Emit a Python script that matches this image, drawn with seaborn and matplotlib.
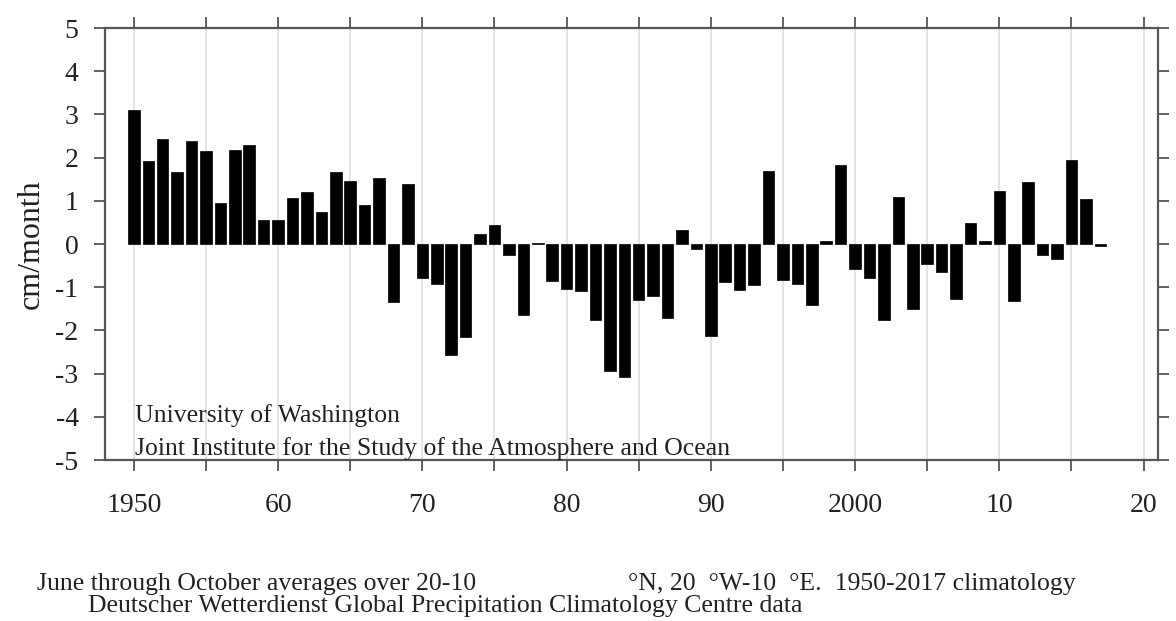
import matplotlib
matplotlib.use("Agg")
import matplotlib.pyplot as plt
import seaborn as sns
import numpy as np
import pandas as pd

years = list(range(1950, 2018))
anomaly_cm = [
    3.11, 1.91, 2.42, 1.66, 2.39, 2.15, 0.95, 2.17, 2.30, 0.56,
    0.56, 1.06, 1.20, 0.75, 1.67, 1.45, 0.90, 1.52, -1.35, 1.40,
    -0.79, -0.93, -2.56, -2.16, 0.24, 0.45, -0.26, -1.64, 0.03, -0.86,
    -1.04, -1.08, -1.77, -2.93, -3.09, -1.29, -1.21, -1.71, 0.32, -0.12,
    -2.12, -0.89, -1.07, -0.96, 1.68, -0.83, -0.93, -1.42, 0.07, 1.82,
    -0.58, -0.79, -1.77, 1.09, -1.50, -0.46, -0.65, -1.27, 0.49, 0.08,
    1.23, -1.33, 1.44, -0.25, -0.34, 1.94, 1.05, -0.04,
]
xtick_pos = list(range(1950, 2021, 5))
xtick_labels = ["1950", "", "60", "", "70", "", "80", "", "90", "",
                "2000", "", "10", "", "20"]
ytick_pos = list(range(-5, 6))
ytick_labels = [str(v) for v in ytick_pos]

ylabel = "cm/month"
note1 = "University of Washington"
note2 = "Joint Institute for the Study of the Atmosphere and Ocean"
cap1a = "June through October averages over 20-10"
cap1b = "°N, 20  °W-10  °E.  1950-2017 climatology"
cap2 = "Deutscher Wetterdienst Global Precipitation Climatology Centre data"

df = pd.DataFrame({"year": years, "anom": anomaly_cm})

sns.set_style("white")
plt.rcParams["font.family"] = ["Liberation Serif", "DejaVu Serif"]

fig = plt.figure(figsize=(11.76, 6.21), dpi=100)
ax = fig.add_axes([105/1176, 1-460/621, (1158-105)/1176, (460-28)/621])

sns.barplot(data=df, x="year", y="anom", native_scale=True, color="black",
            saturation=1, width=0.8, errorbar=None, edgecolor="black",
            linewidth=0.5, ax=ax, zorder=3)

ax.set_xlim(1948, 2021)
ax.set_ylim(-5, 5)
ax.set_xticks(xtick_pos)
ax.set_xticklabels(xtick_labels)
ax.set_yticks(ytick_pos)
ax.set_yticklabels(ytick_labels)
ax.set_xlabel("")
ax.set_ylabel(ylabel, fontsize=23, color="#222222")
ax.yaxis.set_label_coords(-0.056, 0.5)

ax.grid(axis="x", color="#dedede", lw=1.2, zorder=0)
ax.grid(axis="y", visible=False)
ax.set_axisbelow(True)

spine_c = "#555555"
for s in ax.spines.values():
    s.set_visible(True)
    s.set_color(spine_c)
    s.set_linewidth(1.6)

ax.tick_params(axis="both", which="major", direction="out", length=8,
               width=1.3, color=spine_c, labelsize=20, labelcolor="#222222",
               top=True, right=True, bottom=True, left=True,
               labeltop=False, labelright=False)
ax.tick_params(axis="x", pad=16)
ax.tick_params(axis="y", pad=11)

ax.text(0.0285, 0.088, note1, transform=ax.transAxes, fontsize=18.5,
        va="baseline", ha="left", color="#222222", zorder=5)
ax.text(0.0285, 0.012, note2, transform=ax.transAxes, fontsize=18.5,
        va="baseline", ha="left", color="#222222", zorder=5)

fig.text(37/1176, 1-590/621, cap1a, fontsize=18.5, va="baseline", ha="left",
         color="#222222")
fig.text(628/1176, 1-590/621, cap1b, fontsize=18.5, va="baseline", ha="left",
         color="#222222")
fig.text(88/1176, 1-612/621, cap2, fontsize=18.5, va="baseline", ha="left",
         color="#222222")

fig.savefig("out.png", dpi=100)
